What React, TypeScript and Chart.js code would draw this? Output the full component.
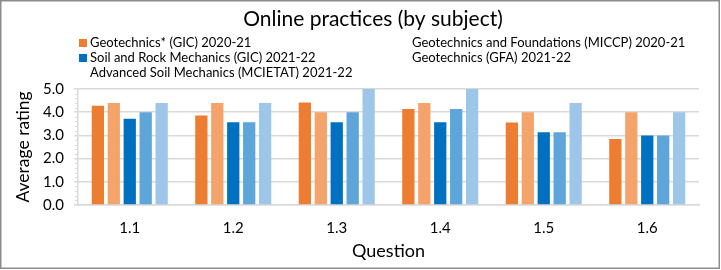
import React, { useEffect, useRef } from "react";
import { Chart, registerables } from "chart.js";

Chart.register(...registerables);

const categories = ["1.1", "1.2", "1.3", "1.4", "1.5", "1.6"];
const seriesNames = [
  "Geotechnics* (GIC) 2020-21",
  "Geotechnics and Foundations (MICCP) 2020-21",
  "Soil and Rock Mechanics (GIC) 2021-22",
  "Geotechnics (GFA) 2021-22",
  "Advanced Soil Mechanics (MCIETAT) 2021-22",
];
const gic2021 = [4.28, 3.86, 4.42, 4.14, 3.56, 2.84];
const miccp2021 = [4.4, 4.4, 4.0, 4.4, 4.0, 4.0];
const gic2122 = [3.72, 3.57, 3.57, 3.57, 3.14, 3.0];
const gfa2122 = [4.0, 3.57, 4.0, 4.14, 3.14, 3.0];
const mcietat2122 = [4.4, 4.4, 5.0, 5.0, 4.4, 4.0];
const yTicks = [0, 1, 2, 3, 4, 5];

const colors = ["#ED7D31", "#F4A36B", "#0070C0", "#5EA5DA", "#9DC6E8"];
const legendShowBox = [true, false, true, false, false];
const FONT = "Lato, 'Open Sans', sans-serif";

export default function App() {
  const ref = useRef<HTMLCanvasElement | null>(null);
  useEffect(() => {
    if (!ref.current) return;
    const values = [gic2021, miccp2021, gic2122, gfa2122, mcietat2122];
    const decor = {
      id: "decor",
      afterDraw(chart: any) {
        const ctx = chart.ctx as CanvasRenderingContext2D;
        const y = chart.scales.y;
        ctx.save();
        // minor ticks
        ctx.strokeStyle = "#d9d9d9";
        ctx.lineWidth = 1;
        const left = chart.chartArea.left;
        for (let v = 0; v <= 5.0001; v += 0.2) {
          if (Math.abs(v - Math.round(v)) < 0.01) continue;
          const py = Math.round(y.getPixelForValue(v)) + 0.5;
          ctx.beginPath();
          ctx.moveTo(left - 3, py);
          ctx.lineTo(left, py);
          ctx.stroke();
        }
        // title
        ctx.fillStyle = "#000";
        ctx.font = `21px ${FONT}`;
        ctx.textAlign = "center";
        ctx.textBaseline = "middle";
        ctx.fillText("Online practices (by subject)", 373, 19);
        // legend
        ctx.font = `13px ${FONT}`;
        ctx.textAlign = "left";
        const pos = [
          [90, 43],
          [412, 43],
          [90, 58],
          [412, 58],
          [90, 73],
        ];
        seriesNames.forEach((name, i) => {
          const [x, yy] = pos[i];
          if (legendShowBox[i]) {
            ctx.fillStyle = colors[i];
            ctx.fillRect(x - 11, yy - 4, 8, 8);
          }
          ctx.fillStyle = "#000";
          ctx.fillText(name, x, yy);
        });
        // border
        ctx.strokeStyle = "#8c8c8c";
        ctx.lineWidth = 1.5;
        ctx.strokeRect(0.75, 0.75, 718.5, 267.5);
        ctx.restore();
      },
    };
    const chart = new Chart(ref.current, {
      type: "bar",
      data: {
        labels: categories,
        datasets: seriesNames.map((n, i) => ({
          label: n,
          data: values[i],
          backgroundColor: colors[i],
          categoryPercentage: 0.77,
          barPercentage: 0.77,
        })),
      },
      options: {
        responsive: false,
        animation: false,
        devicePixelRatio: 1,
        layout: { padding: { top: 89, left: 0, right: 22, bottom: 0 } },
        plugins: { legend: { display: false }, title: { display: false }, tooltip: { enabled: false } },
        scales: {
          x: {
            grid: { display: false, drawTicks: false },
            border: { display: true, color: "#d9d9d9", width: 1.5 },
            ticks: { color: "#000", font: { family: FONT, size: 15 }, padding: 14 },
            title: {
              display: true,
              text: "Question",
              color: "#000",
              font: { family: FONT, size: 18 },
              padding: { top: 0, bottom: 8 },
            },
            afterFit(scale: any) {
              scale.height = 65;
            },
          },
          y: {
            min: 0,
            max: 5,
            afterBuildTicks(scale: any) {
              scale.ticks = yTicks.map((v) => ({ value: v }));
            },
            grid: { color: "#d9d9d9", lineWidth: 1.5, tickLength: 4 },
            border: { display: true, color: "#d9d9d9", width: 1.5 },
            ticks: {
              color: "#000",
              font: { family: FONT, size: 15 },
              padding: 10,
              callback: (v: any) => Number(v).toFixed(1),
            },
            title: {
              display: true,
              text: "Average rating",
              color: "#000",
              font: { family: FONT, size: 17.5 },
              padding: { top: 13, bottom: 0 },
            },
            afterFit(scale: any) {
              scale.width = 78;
            },
          },
        },
      },
      plugins: [decor],
    });
    return () => chart.destroy();
  }, []);
  return (
    <div style={{ position: "fixed", left: 0, top: 0, width: 721, height: 270, background: "#fff" }}>
      <canvas ref={ref} width={721} height={270} style={{ display: "block" }} />
    </div>
  );
}
